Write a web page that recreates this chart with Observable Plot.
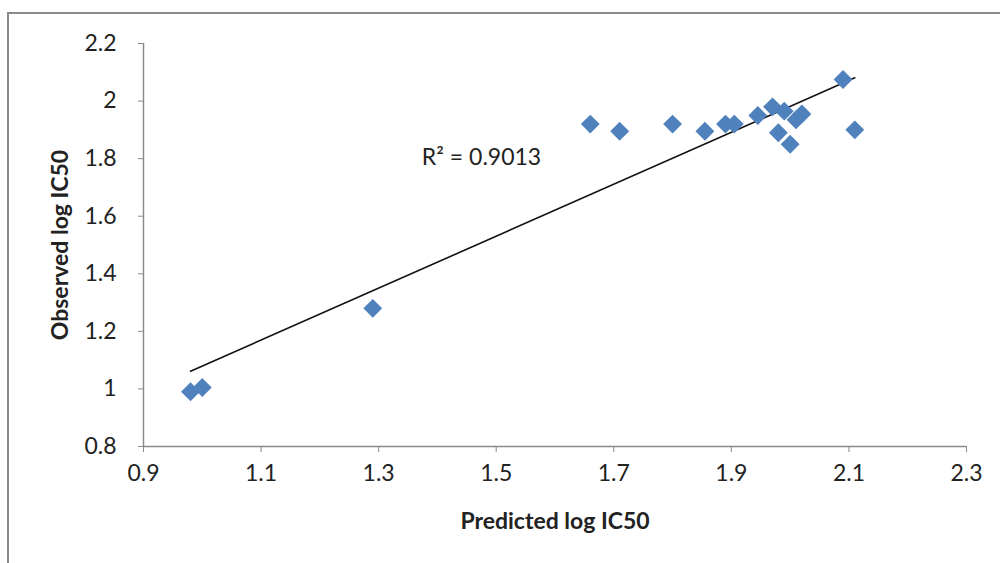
<!DOCTYPE html>
<html>
<head>
<meta charset="utf-8">
<script src="https://cdn.jsdelivr.net/npm/d3@7"></script>
<script src="https://cdn.jsdelivr.net/npm/@observablehq/plot@0.6"></script>
<style>
  html, body { margin: 0; padding: 0; background: #fff; }
  #wrap { position: relative; width: 1000px; height: 563px; overflow: hidden; }
  #frame { position: absolute; left: 7px; top: 12px; width: 1010px; height: 600px; border: 2px solid #8a8a8a; box-sizing: border-box; pointer-events: none; }
  #wrap svg { position: absolute; left: 0; top: 0; }
</style>
</head>
<body>
<div id="wrap"><div id="frame"></div></div>
<script>
const predicted = [0.98, 1.00, 1.29, 1.66, 1.71, 1.80, 1.855, 1.89, 1.905, 1.945, 1.97, 1.99, 2.01, 2.02, 1.98, 2.00, 2.09, 2.11];
const observed  = [0.99, 1.005, 1.28, 1.92, 1.895, 1.92, 1.895, 1.92, 1.92, 1.95, 1.98, 1.965, 1.935, 1.955, 1.89, 1.85, 2.075, 1.90];
const xTicks = [0.9, 1.1, 1.3, 1.5, 1.7, 1.9, 2.1, 2.3];
const yTicks = [0.8, 1, 1.2, 1.4, 1.6, 1.8, 2, 2.2];
const xLabel = "Predicted log IC50";
const yLabel = "Observed log IC50";
const r2Label = "R² = 0.9013";
const r2At = {x: 1.475, y: 1.803};

const data = predicted.map((p, i) => ({p, o: observed[i]}));

const chart = Plot.plot({
  width: 1000,
  height: 563,
  marginLeft: 143,
  marginRight: 34,
  marginTop: 43,
  marginBottom: 117,
  style: {fontFamily: "Lato, 'Open Sans', sans-serif", fontSize: "20px", color: "#222", background: "transparent"},
  x: {domain: [0.9, 2.3]},
  y: {domain: [0.8, 2.2]},
  marks: [
    Plot.ruleX([0.9], {stroke: "#8a8a8a", strokeWidth: 1.5}),
    Plot.ruleY([0.8], {stroke: "#8a8a8a", strokeWidth: 1.5}),
    Plot.axisX({ticks: xTicks, tickFormat: d => String(d), tickSize: 6, tickPadding: 12, fontSize: 23, stroke: "#8a8a8a", label: null, fill: "#222"}),
    Plot.axisY({ticks: yTicks, tickFormat: d => String(d), tickSize: 5, tickPadding: 22, fontSize: 23, stroke: "#8a8a8a", label: null, fill: "#222"}),
    Plot.text([xLabel], {frameAnchor: "bottom", dy: 82, text: d => d, fontSize: 23, fontWeight: "bold", fill: "#222"}),
    Plot.text([yLabel], {frameAnchor: "left", dx: -83, rotate: -90, textAnchor: "middle", text: d => d, fontSize: 23, fontWeight: "bold", fill: "#222"}),
    Plot.linearRegressionY(data, {x: "p", y: "o", ci: 0, stroke: "#111", strokeWidth: 1.6}),
    Plot.dot(data, {x: "p", y: "o", symbol: "diamond2", r: 8.5, fill: "#4F81BD", stroke: "none"}),
    Plot.text([r2At], {x: "x", y: "y", text: () => r2Label, textAnchor: "middle", fontSize: 23, fill: "#222"})
  ]
});
document.getElementById("wrap").prepend(chart);
</script>
</body>
</html>
